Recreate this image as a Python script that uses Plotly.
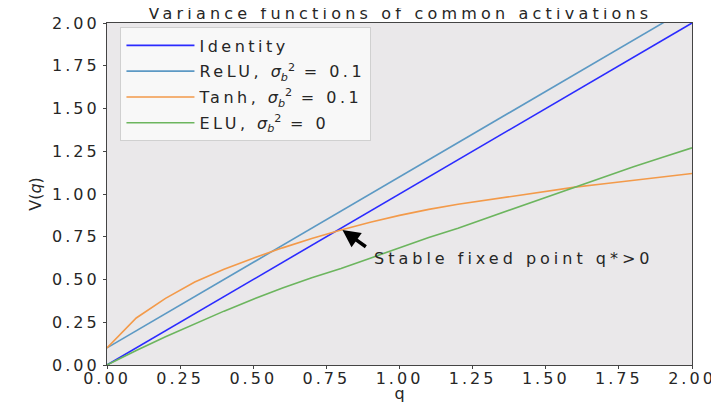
import plotly.graph_objects as go

q = [0.0, 0.1, 0.2, 0.3, 0.4, 0.5, 0.6, 0.7, 0.8, 0.9, 1.0,
     1.1, 1.2, 1.3, 1.4, 1.5, 1.6, 1.7, 1.8, 1.9, 2.0]
identity = [0.0, 0.1, 0.2, 0.3, 0.4, 0.5, 0.6, 0.7, 0.8, 0.9, 1.0,
            1.1, 1.2, 1.3, 1.4, 1.5, 1.6, 1.7, 1.8, 1.9, 2.0]
relu = [0.1, 0.2, 0.3, 0.4, 0.5, 0.6, 0.7, 0.8, 0.9, 1.0, 1.1,
        1.2, 1.3, 1.4, 1.5, 1.6, 1.7, 1.8, 1.9, 2.0, 2.1]
tanh = [0.10, 0.275, 0.39, 0.485, 0.56, 0.625, 0.685, 0.74, 0.79, 0.835, 0.875,
        0.91, 0.94, 0.965, 0.99, 1.015, 1.04, 1.06, 1.08, 1.10, 1.12]
elu = [0.0, 0.085, 0.165, 0.24, 0.315, 0.385, 0.45, 0.51, 0.565, 0.625, 0.685,
       0.745, 0.80, 0.86, 0.92, 0.98, 1.04, 1.10, 1.16, 1.215, 1.27]

x_ticks = [0.0, 0.25, 0.5, 0.75, 1.0, 1.25, 1.5, 1.75, 2.0]
y_ticks = [0.0, 0.25, 0.5, 0.75, 1.0, 1.25, 1.5, 1.75, 2.0]


def sp(text, ls=3.5):
    return f'<span style="letter-spacing:{ls}px">{text}</span>'


sig = "<i>σ</i><sub><i>b</i></sub><sup>2</sup>"
names = [sp("Identity"),
         sp("ReLU, ") + sig + sp(" = 0.1"),
         sp("Tanh, ") + sig + sp(" = 0.1"),
         sp("ELU, ") + sig + sp(" = 0")]
colors = ["#2b2bff", "#5c99c4", "#f39a4a", "#6cb55e"]
series = [identity, relu, tanh, elu]

fig = go.Figure()
for i, (name, col, ys) in enumerate(zip(names, colors, series)):
    fig.add_trace(go.Scatter(x=q, y=ys, mode="lines", name=name, legendgroup=f"g{i}",
                             line=dict(color=col, width=1.6)))

font_family = "DejaVu Sans"
axis_common = dict(showgrid=False, zeroline=False, showline=True, mirror=True,
                   linecolor="#444444", linewidth=1.2, ticks="outside",
                   ticklen=3, tickcolor="#444444", automargin=False,
                   tickfont=dict(size=16, color="#262626"))

# the page body adds an 8px offset, so the figure is 8px smaller than the window
fig.update_layout(
    width=711, height=395,
    margin=dict(l=99, r=27, t=15, b=38, autoexpand=False),
    paper_bgcolor="white", plot_bgcolor="#eae8ea",
    font=dict(family=font_family, color="#262626"),
    title=dict(text=sp("Variance functions of common activations", 4.2),
               x=0.552, xanchor="center", y=1.0, yanchor="top",
               pad=dict(t=0, b=0),
               font=dict(size=16, color="#262626")),
    xaxis=dict(range=[0, 2], tickvals=x_ticks,
               ticktext=[sp(f"{v:.2f}", 3) for v in x_ticks],
               ticklabelstandoff=-4,
               title=dict(text="q", font=dict(size=16), standoff=0), **axis_common),
    yaxis=dict(range=[0, 2], tickvals=y_ticks,
               ticktext=[sp(f"{v:.2f}", 3) for v in y_ticks],
               title=dict(text="V(<i>q</i>)", font=dict(size=16), standoff=6), **axis_common),
    legend=dict(x=0.023, y=0.987, xanchor="left", yanchor="top",
                bgcolor="rgba(250,250,250,0.85)", bordercolor="#d0d0d0", borderwidth=1,
                itemwidth=68,
                font=dict(size=16, color="#262626"), tracegroupgap=2),
    showlegend=True,
)

# arrow pointing to stable fixed point
fig.add_annotation(x=0.805, y=0.79, ax=0.89, ay=0.685, xref="x", yref="y",
                   axref="x", ayref="y", text="", showarrow=True,
                   arrowhead=2, arrowsize=1, arrowwidth=3.5, arrowcolor="black")
fig.add_annotation(x=0.907, y=0.62, xref="x", yref="y",
                   text=sp("Stable fixed point q*>0", 4),
                   showarrow=False, xanchor="left", yanchor="middle",
                   font=dict(size=16, color="#262626"))

fig.write_html("out.html")
